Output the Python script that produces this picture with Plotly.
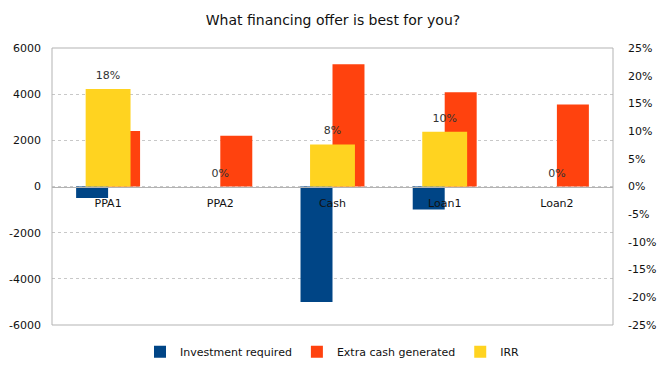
import plotly.graph_objects as go

categories = ["PPA1", "PPA2", "Cash", "Loan1", "Loan2"]
investment_required = [-500, 0, -5000, -1000, 0]
extra_cash_generated = [2400, 2200, 5300, 4080, 3550]
irr = [0.176, 0.0, 0.076, 0.099, 0.0]

left_tick_values = [-6000, -4000, -2000, 0, 2000, 4000, 6000]
left_tick_labels = ["-6000", "-4000", "-2000", "0", "2000", "4000", "6000"]
right_tick_values = [-0.25, -0.20, -0.15, -0.10, -0.05, 0.0, 0.05, 0.10, 0.15, 0.20, 0.25]
right_tick_labels = ["-25%", "-20%", "-15%", "-10%", "-5%", "0%", "5%", "10%", "15%", "20%", "25%"]

BLUE = "#004586"
RED = "#ff420e"
YELLOW = "#ffd320"
FONT = "DejaVu Sans"

fig = go.Figure()
fig.add_trace(go.Bar(name="Investment required", x=categories, y=investment_required,
                     marker=dict(color=BLUE, line=dict(width=0)), width=0.285, offset=-0.285,
                     yaxis="y"))
fig.add_trace(go.Bar(name="Extra cash generated", x=categories, y=extra_cash_generated,
                     marker=dict(color=RED, line=dict(width=0)), width=0.285, offset=0.0,
                     yaxis="y"))
fig.add_trace(go.Bar(name="IRR", x=categories, y=irr,
                     marker=dict(color=YELLOW, line=dict(width=0)), width=0.40, offset=-0.20,
                     yaxis="y2"))
fig.add_trace(go.Scatter(x=categories, y=irr, mode="markers+text",
                         marker=dict(size=10, color="rgba(0,0,0,0)"),
                         text=[f"{v*100:.0f}%" for v in irr], textposition="top center",
                         textfont=dict(family=FONT, size=11, color="#333333"),
                         yaxis="y2", showlegend=False, hoverinfo="skip"))

fig.update_layout(
    width=666, height=374,
    margin=dict(l=52, r=53, t=48, b=49, autoexpand=False),
    paper_bgcolor="white", plot_bgcolor="white",
    barmode="overlay",
    font=dict(family=FONT, size=11, color="#222222"),
    title=dict(text="What financing offer is best for you?", x=0.5, xanchor="center",
               y=1 - 20 / 374, yanchor="middle", font=dict(family=FONT, size=14, color="#111111")),
    xaxis=dict(type="category", anchor="free", position=0.5, showline=True, linecolor="#b3b3b3",
               linewidth=1, ticks="", showgrid=False, ticklabelstandoff=6,
               tickfont=dict(size=11, color="#111111")),
    yaxis=dict(range=[-6000, 6000], tickmode="array", tickvals=left_tick_values,
               ticktext=left_tick_labels, showgrid=True, gridcolor="#c8c8c8",
               griddash="3px,3px", zeroline=False, showline=False, ticks="",
               ticklabelstandoff=10, tickfont=dict(size=11, color="#111111")),
    yaxis2=dict(range=[-0.25, 0.25], tickmode="array", tickvals=right_tick_values,
                ticktext=right_tick_labels, overlaying="y", side="right",
                showgrid=False, zeroline=False, showline=False, ticks="",
                ticklabelstandoff=14, tickfont=dict(size=11, color="#111111")),
    legend=dict(orientation="h", x=0.5, xanchor="center", y=-0.097, yanchor="middle",
                font=dict(size=11, color="#111111"), traceorder="normal", itemwidth=30),
    shapes=[dict(type="rect", xref="paper", yref="paper", x0=0, x1=1, y0=0, y1=1,
                 line=dict(color="#b3b3b3", width=1), layer="above")],
    showlegend=True,
)

fig.write_html("out.html", config={"displayModeBar": False},
               post_script="document.body.style.margin='0';document.body.style.overflow='hidden';")
